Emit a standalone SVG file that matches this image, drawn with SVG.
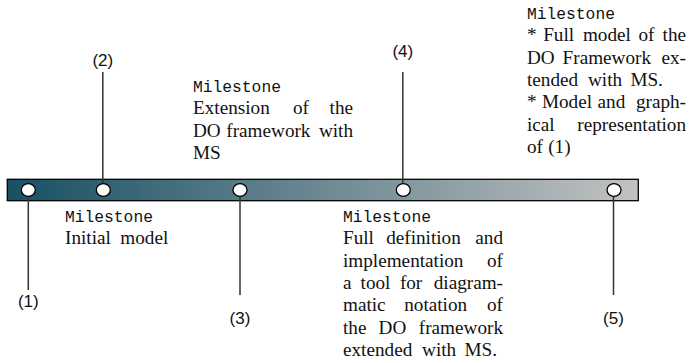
<svg xmlns="http://www.w3.org/2000/svg" width="689" height="363" viewBox="0 0 689 363">
  <style>
    .tt { font-family: "Liberation Mono", "DejaVu Sans Mono", monospace; font-size: 16.3px; fill: #111; }
    .rm { font-family: "Liberation Serif", "Times New Roman", serif; font-size: 19.2px; fill: #111; }
    .num { font-family: "Liberation Sans", Arial, sans-serif; font-size: 17px; fill: #111; text-anchor: middle; }
    .lead { stroke: #333; stroke-width: 1.5; fill: none; }
    .dot { fill: #fff; stroke: #000; stroke-width: 1.3; }
  </style>
  <defs>
    <linearGradient id="barFill" x1="0" y1="0" x2="1" y2="0">
      <stop offset="0" stop-color="#185064"/>
      <stop offset="1" stop-color="#c2c2c2"/>
    </linearGradient>
  </defs>
  <rect width="689" height="363" fill="#fff"/>

  <!-- timeline bar -->
  <g id="timeline">
    <rect x="7.3" y="179.3" width="631" height="21.4" fill="url(#barFill)" stroke="#000" stroke-width="1.3"/>
  </g>

  <!-- leader lines from each point to its number -->
  <g id="connectors">
    <line class="lead" x1="28.3" y1="190" x2="28.3" y2="290"/>
    <line class="lead" x1="102.8" y1="72" x2="102.8" y2="190"/>
    <line class="lead" x1="240" y1="190" x2="240" y2="295"/>
    <line class="lead" x1="402.8" y1="72" x2="402.8" y2="190"/>
    <line class="lead" x1="613.5" y1="190" x2="613.5" y2="295"/>
  </g>

  <g id="point1">
    <ellipse class="dot" cx="28.3" cy="190" rx="7" ry="6.3"/>
    <text class="num" x="28.3" y="307">(1)</text>
  </g>
  <g id="point2">
    <ellipse class="dot" cx="103.3" cy="190" rx="7" ry="6.3"/>
    <text class="num" x="102.8" y="66">(2)</text>
  </g>
  <g id="point3">
    <ellipse class="dot" cx="240" cy="190" rx="7" ry="6.3"/>
    <text class="num" x="240" y="323.5">(3)</text>
  </g>
  <g id="point4">
    <ellipse class="dot" cx="403.3" cy="190" rx="7" ry="6.3"/>
    <text class="num" x="402.8" y="56.5">(4)</text>
  </g>
  <g id="point5">
    <ellipse class="dot" cx="614" cy="190" rx="7" ry="6.3"/>
    <text class="num" x="613.5" y="323.5">(5)</text>
  </g>

  <!-- milestone descriptions -->
  <g id="milestone1">
    <text class="tt" x="65" y="222">Milestone</text>
    <text class="rm" y="244.3"><tspan x="65">Initial</tspan><tspan x="120.3">model</tspan></text>
  </g>

  <g id="milestone3">
    <text class="tt" x="193" y="92">Milestone</text>
    <text class="rm" y="114.3"><tspan x="193">Extension</tspan><tspan x="292.9">of</tspan><tspan x="353" text-anchor="end">the</tspan></text>
    <text class="rm" y="136.6"><tspan x="193">DO</tspan><tspan x="226.3">framework</tspan><tspan x="353" text-anchor="end">with</tspan></text>
    <text class="rm" x="193" y="158.9">MS</text>
  </g>

  <g id="milestone4">
    <text class="tt" x="343" y="222">Milestone</text>
    <text class="rm" y="244.3"><tspan x="343">Full</tspan><tspan x="386.2">definition</tspan><tspan x="503" text-anchor="end">and</tspan></text>
    <text class="rm" y="266.6"><tspan x="343">implementation</tspan><tspan x="503" text-anchor="end">of</tspan></text>
    <text class="rm" y="288.9"><tspan x="343">a</tspan><tspan x="360.6">tool</tspan><tspan x="399.9">for</tspan><tspan x="503" text-anchor="end">diagram-</tspan></text>
    <text class="rm" y="311.2"><tspan x="343">matic</tspan><tspan x="404.2">notation</tspan><tspan x="503" text-anchor="end">of</tspan></text>
    <text class="rm" y="333.5"><tspan x="343">the</tspan><tspan x="378.6">DO</tspan><tspan x="503" text-anchor="end">framework</tspan></text>
    <text class="rm" y="355.8"><tspan x="343">extended</tspan><tspan x="422.1">with</tspan><tspan x="464.5">MS.</tspan></text>
  </g>

  <g id="milestone5">
    <text class="tt" x="527" y="19">Milestone</text>
    <text class="rm" y="41.3"><tspan x="527">*</tspan><tspan x="543.2">Full</tspan><tspan x="582.9">model</tspan><tspan x="638.4">of</tspan><tspan x="686" text-anchor="end">the</tspan></text>
    <text class="rm" y="63.6"><tspan x="527">DO</tspan><tspan x="562.6">Framework</tspan><tspan x="686" text-anchor="end">ex-</tspan></text>
    <text class="rm" y="85.9"><tspan x="527">tended</tspan><tspan x="588">with</tspan><tspan x="630.4">MS.</tspan></text>
    <text class="rm" y="108.2"><tspan x="527">*</tspan><tspan x="541.9">Model</tspan><tspan x="597.6">and</tspan><tspan x="686" text-anchor="end">graph-</tspan></text>
    <text class="rm" y="130.5"><tspan x="527">ical</tspan><tspan x="686" text-anchor="end">representation</tspan></text>
    <text class="rm" y="152.8"><tspan x="527">of</tspan><tspan x="548.2">(1)</tspan></text>
  </g>
</svg>
